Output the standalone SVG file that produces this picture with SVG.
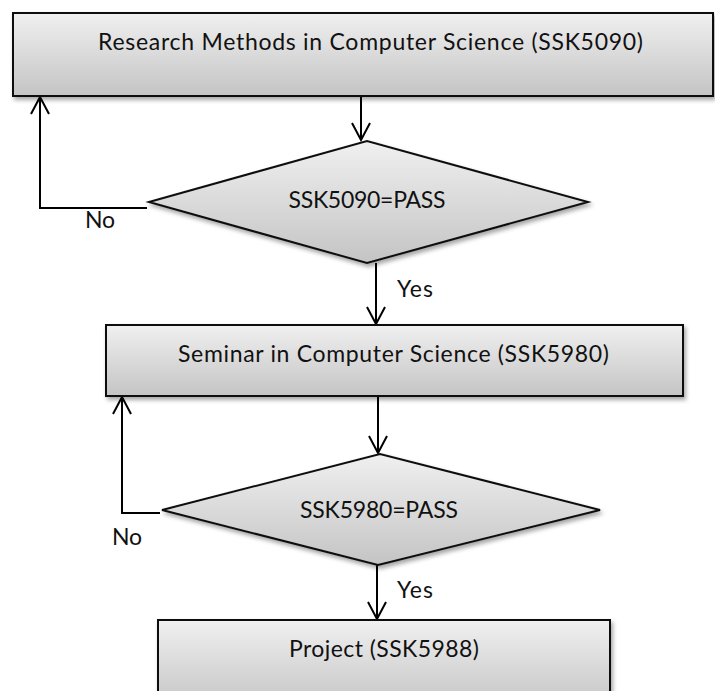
<svg xmlns="http://www.w3.org/2000/svg" width="715" height="691" viewBox="0 0 715 691">
<style>
.shape{fill:url(#g);stroke:#111;stroke-width:2;filter:url(#sh)}
.lbl{font-family:Lato,"Open Sans","Liberation Sans",sans-serif;font-size:23px;fill:#111}
.mid{text-anchor:middle}
.conn{fill:none;stroke:#000;stroke-width:2;marker-end:url(#arr)}
</style>
<defs>
<linearGradient id="g" x1="0" y1="0" x2="0" y2="1">
<stop offset="0" stop-color="#f0f0f0"/>
<stop offset="1" stop-color="#c4c4c4"/>
</linearGradient>
<filter id="sh" x="-10%" y="-10%" width="120%" height="130%">
<feDropShadow dx="2" dy="3" stdDeviation="2" flood-color="#000" flood-opacity="0.35"/>
</filter>
<marker id="arr" viewBox="-19 -11 21 22" refX="0" refY="0" markerWidth="21" markerHeight="22" markerUnits="userSpaceOnUse" orient="auto">
<path d="M-17,-9 L0,0 L-17,9" fill="none" stroke="#000" stroke-width="2"/>
</marker>
</defs>
<g id="connectors">
<path class="conn" d="M361,96 L361,140"/>
<path class="conn" d="M147,208 L40,208 L40,97"/>
<path class="conn" d="M376,263 L376,324"/>
<path class="conn" d="M378,397 L378,453"/>
<path class="conn" d="M160,513 L122,513 L122,397"/>
<path class="conn" d="M377,565 L377,619"/>
</g>
<g id="n1">
<rect class="shape" x="13" y="13" width="700" height="83"/>
<text class="lbl mid" x="370.5" y="50" textLength="545">Research Methods in Computer Science (SSK5090)</text>
</g>
<g id="d1">
<polygon class="shape" points="149,202 367,141 588,202 367,263"/>
<text class="lbl mid" x="367" y="208" textLength="157">SSK5090=PASS</text>
</g>
<g id="n2">
<rect class="shape" x="106" y="325" width="577" height="71"/>
<text class="lbl mid" x="393.5" y="362" textLength="431">Seminar in Computer Science (SSK5980)</text>
</g>
<g id="d2">
<polygon class="shape" points="162,510 380,454 600,510 378,565"/>
<text class="lbl mid" x="379" y="518" textLength="158">SSK5980=PASS</text>
</g>
<g id="n3">
<rect class="shape" x="158" y="620" width="452" height="90"/>
<text class="lbl mid" x="384" y="657" textLength="190">Project (SSK5988)</text>
</g>
<g id="labels">
<text class="lbl" x="85" y="228" textLength="30">No</text>
<text class="lbl" x="397" y="297" textLength="36">Yes</text>
<text class="lbl" x="112" y="545" textLength="30">No</text>
<text class="lbl" x="397" y="598" textLength="36">Yes</text>
</g>
</svg>
